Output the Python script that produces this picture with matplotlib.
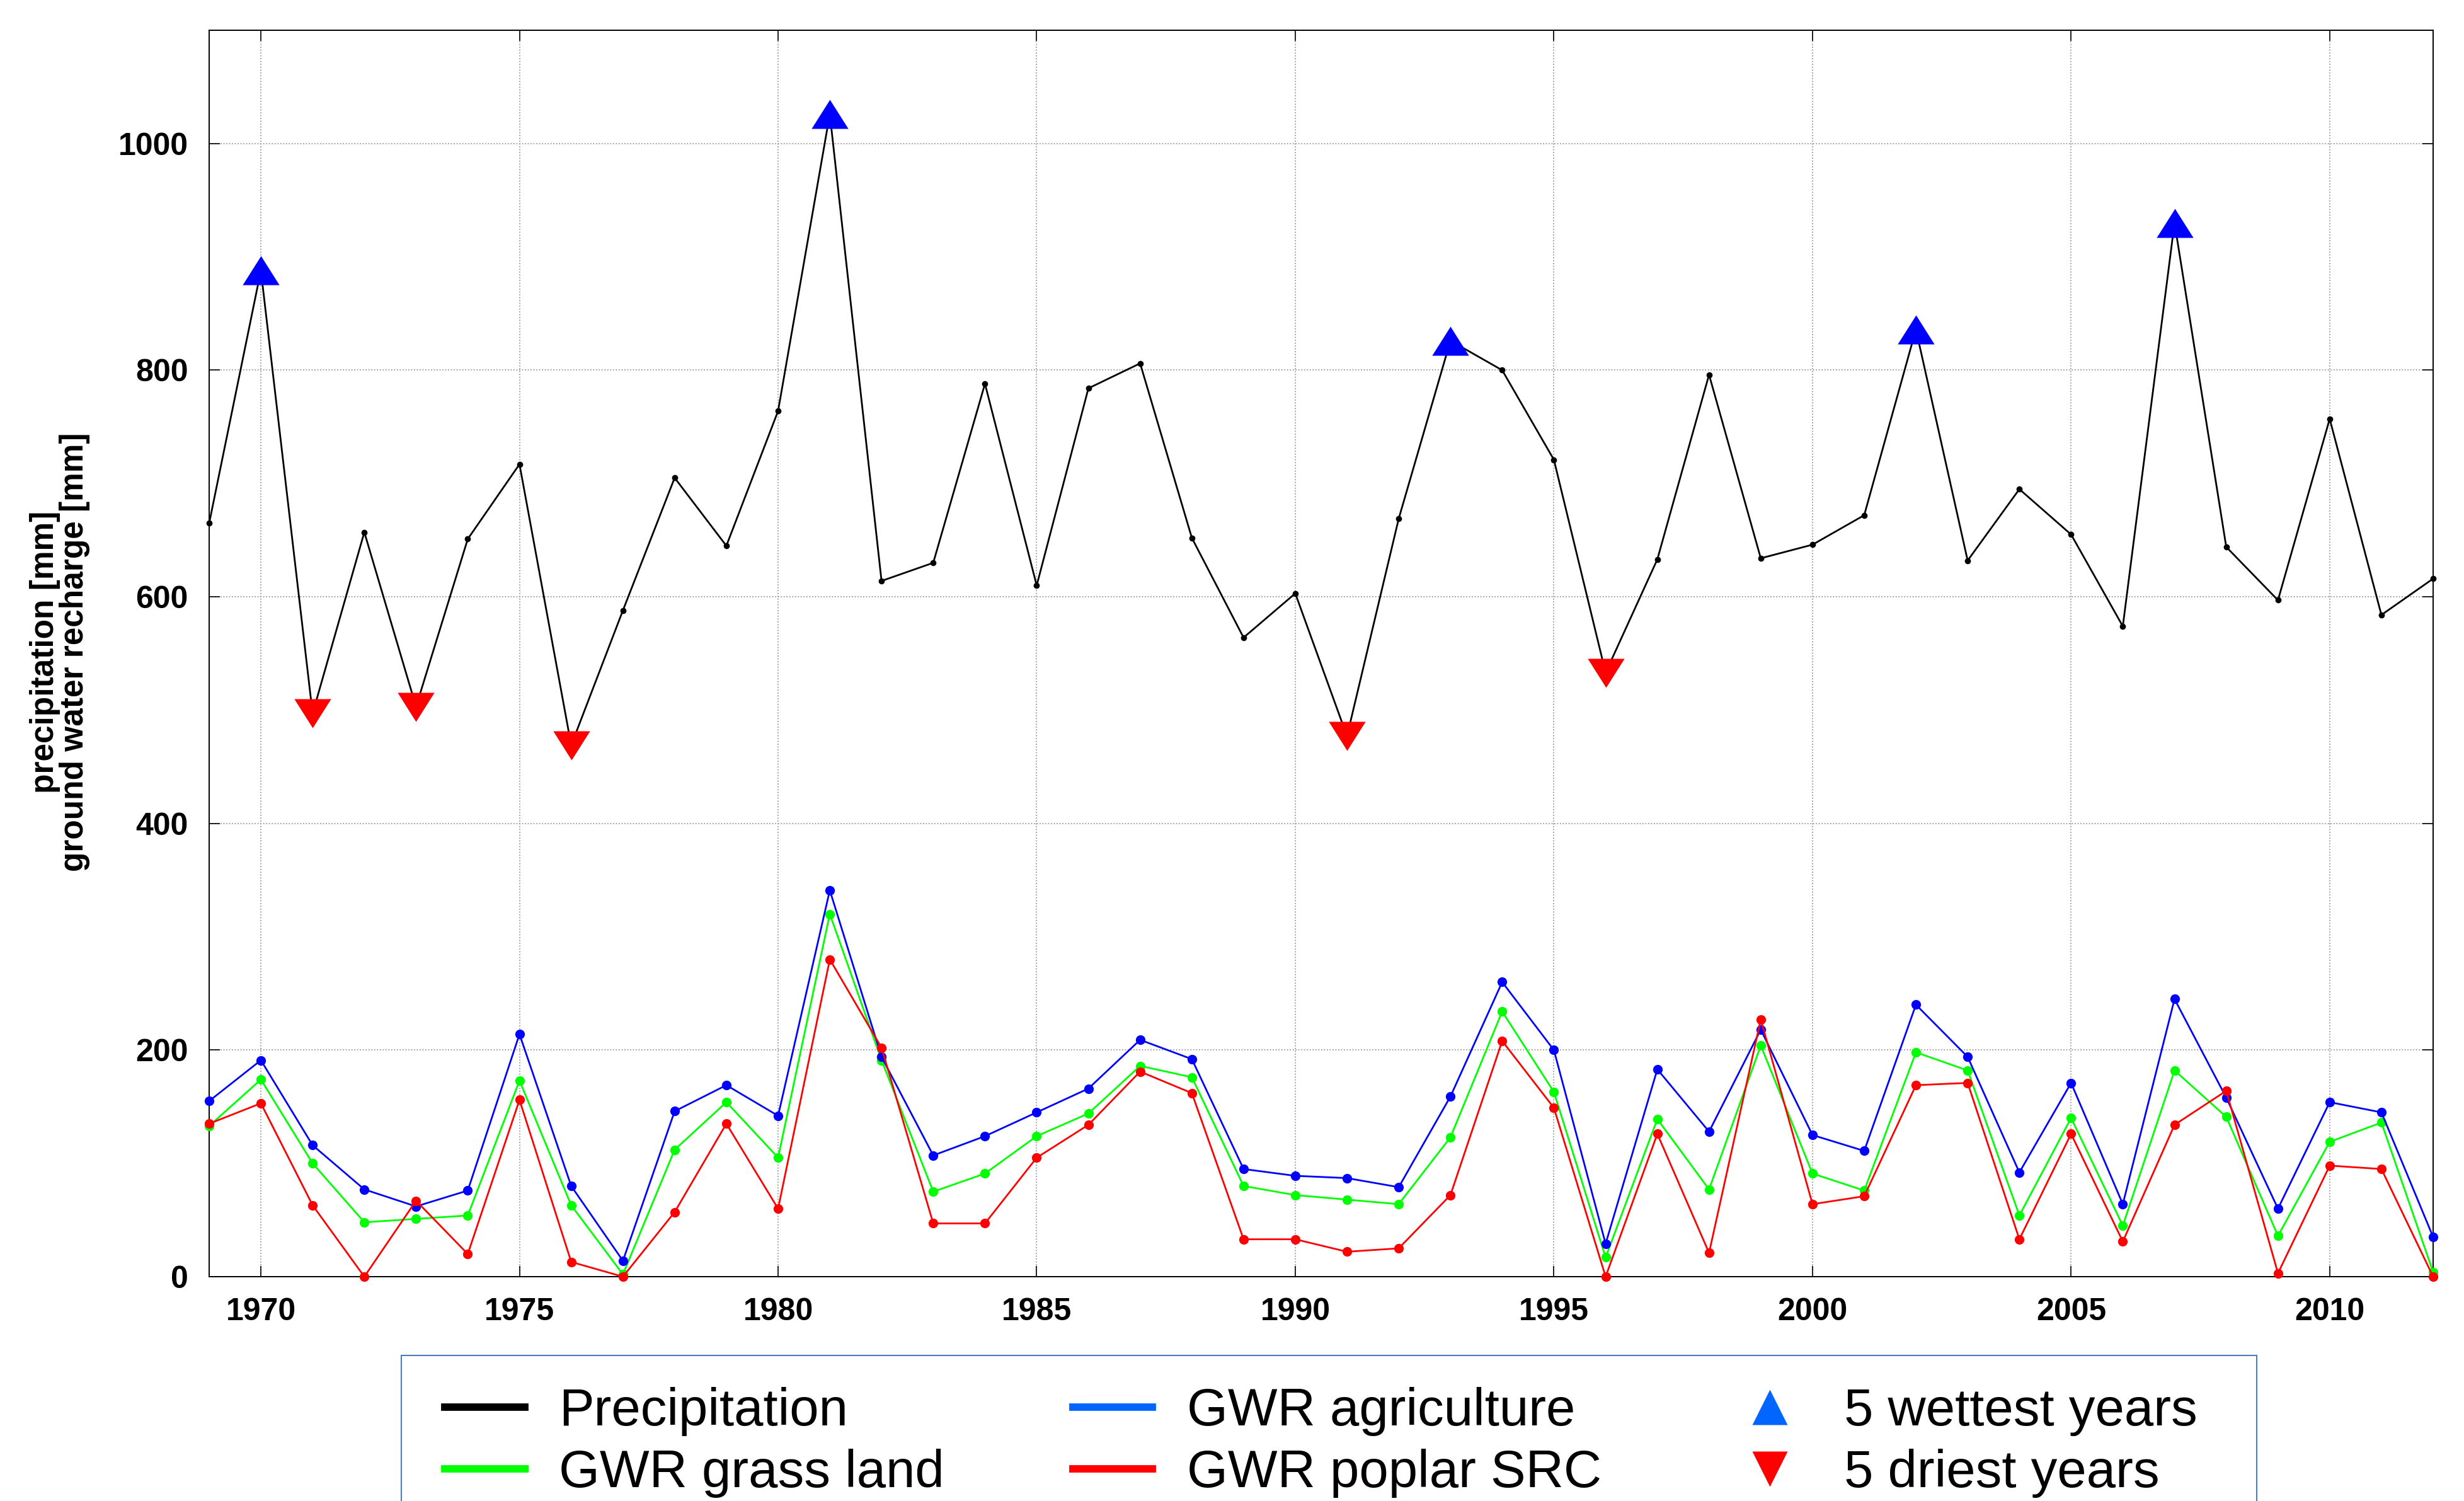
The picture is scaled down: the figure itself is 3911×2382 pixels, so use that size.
import numpy as np
import matplotlib
matplotlib.use("Agg")
import matplotlib.pyplot as plt
from matplotlib.lines import Line2D
from matplotlib.patches import Rectangle

plt.rcParams['font.family'] = ['Liberation Sans', 'DejaVu Sans']

years = list(range(1969, 2013))
precip = [665, 888, 497, 657, 503, 651, 717, 469, 588, 705, 645, 764,
          1026, 614, 630, 788, 610, 784, 806, 652, 564, 603,
          477, 669, 826, 800, 721, 533, 633, 796, 634, 646,
          672, 836, 632, 695, 655, 574, 930, 644, 597, 757, 584, 616]
gwr_agri = [155, 191, 116, 77, 62, 76, 214, 80, 14, 146, 169, 142, 341,
            194, 107, 124, 145, 166, 209, 192, 95, 89, 87, 79, 159, 260, 200, 29, 183,
            128, 218, 125, 111, 240, 194, 92, 171, 64, 245, 158, 60, 154, 145, 35]
gwr_grass = [133, 174, 100, 48, 51, 54, 173, 63, 2, 112, 154, 105, 320,
             191, 75, 91, 124, 144, 186, 176, 80, 72, 68, 64, 123, 234, 163, 17, 139,
             77, 204, 91, 76, 198, 182, 54, 140, 45, 182, 141, 36, 119, 136, 4]
gwr_poplar = [135, 153, 63, 0, 67, 20, 156, 13, 0, 57, 135, 60, 280,
              202, 47, 47, 105, 134, 181, 162, 33, 33, 22, 25, 72, 208, 149, 0, 126,
              21, 227, 64, 71, 169, 171, 33, 126, 31, 134, 164, 3, 98, 95, 0]
wettest = [1970, 1981, 1993, 2002, 2007]
driest = [1971, 1973, 1976, 1991, 1996]

wet_p = [precip[years.index(y)] for y in wettest]
dry_p = [precip[years.index(y)] for y in driest]

# flat-ish triangles like the original
tri_up = [(-1, -0.79), (1, -0.79), (0, 0.79)]
tri_dn = [(-1, 0.79), (1, 0.79), (0, -0.79)]

W, H = 3912, 2382
fig = plt.figure(figsize=(W/100, H/100), dpi=100)
ax = fig.add_axes([332/W, 1 - 2026/H, (3862-332)/W, (2026-48)/H])

ax.plot(years, gwr_grass, color='#00ff00', lw=2, marker='o', ms=11, mec='none', clip_on=False, zorder=3)
ax.plot(years, gwr_agri, color='#0000ff', lw=2, marker='o', ms=11, mec='none', clip_on=False, zorder=4)
ax.plot(years, gwr_poplar, color='#ff0000', lw=2, marker='o', ms=11, mec='none', clip_on=False, zorder=5)
ax.plot(years, precip, color='black', lw=2, marker='o', ms=7, mec='none', clip_on=False, zorder=6)
ax.plot(wettest, wet_p, ls='none', marker=tri_up, ms=42, color='#0000ff', mec='none', zorder=7)
ax.plot(driest, dry_p, ls='none', marker=tri_dn, ms=42, color='#ff0000', mec='none', zorder=7)

ax.set_xlim(1969, 2012)
ax.set_ylim(0, 1100)
ax.set_xticks(range(1970, 2011, 5))
ax.set_yticks(range(0, 1001, 200))
ax.grid(True, color='#999999', lw=1.3, ls=(0, (1, 1.5)))
ax.tick_params(direction='in', top=True, right=True, length=12, width=1.2,
               labelsize=36, pad=24)
for lab in ax.get_xticklabels() + ax.get_yticklabels():
    lab.set_fontweight('bold')
for sp in ax.spines.values():
    sp.set_linewidth(1.4)

fig.text(95/W, 1 - 1035/H, 'precipitation [mm]\nground water recharge [mm]',
         rotation=90, ha='center', va='center', multialignment='center',
         fontsize=37, fontweight='bold', linespacing=0.95)

# legend frame drawn separately, it runs off the bottom of the figure
fig.patches.append(Rectangle((637/W, -0.05), (3582-637)/W, 0.05 + 1 - 2151/H,
                             transform=fig.transFigure, fill=False,
                             edgecolor='#4a7ebb', lw=1.5))

handles = [
    Line2D([], [], color='black', lw=8.5),
    Line2D([], [], color='#00ff00', lw=8.5),
    Line2D([], [], color='#0066ff', lw=8.5),
    Line2D([], [], color='#ff0000', lw=8.5),
    Line2D([], [], ls='none', marker='^', ms=41, color='#0066ff', mec='none'),
    Line2D([], [], ls='none', marker='v', ms=41, color='#ff0000', mec='none'),
]
labels = ['Precipitation', 'GWR grass land', 'GWR agriculture', 'GWR poplar SRC',
          '5 wettest years', '5 driest years']
leg = fig.legend(handles, labels, ncol=3, loc='upper left',
                 bbox_to_anchor=(706/W, 1 - 2201/H), borderaxespad=0,
                 fontsize=60, frameon=False, borderpad=0,
                 handlelength=1.52, handletextpad=0.65, columnspacing=2.45,
                 labelspacing=0.24)

fig.savefig('out.png', dpi=100)
